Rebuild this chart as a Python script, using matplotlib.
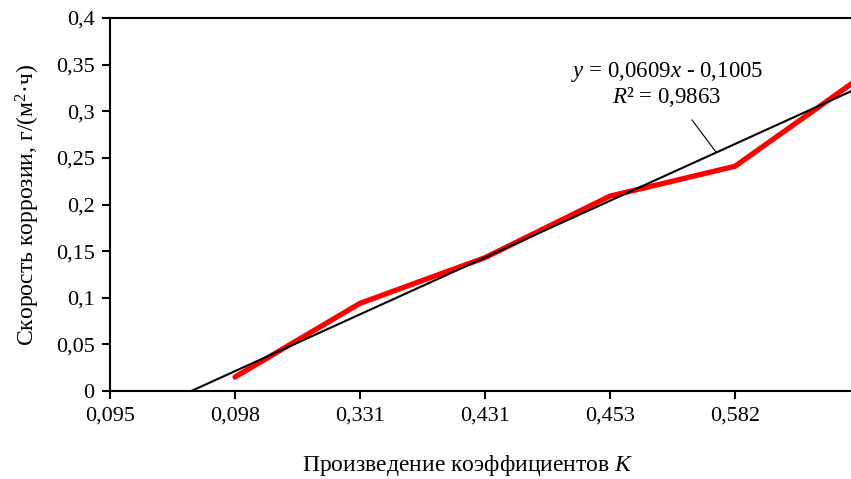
import numpy as np
import matplotlib
matplotlib.use("Agg")
import matplotlib.pyplot as plt

plt.rcParams['font.family'] = ['Liberation Serif', 'DejaVu Serif']
plt.rcParams['mathtext.fontset'] = 'custom'
plt.rcParams['mathtext.rm'] = 'Liberation Serif'
plt.rcParams['mathtext.it'] = 'Liberation Serif:italic'

# category labels (product of coefficients K); last one lies beyond the figure edge
k_labels = ['0,095', '0,098', '0,331', '0,431', '0,453', '0,582', '']
# corrosion rate, g/(m2*h); first category has no value
rate = [np.nan, 0.015, 0.094, 0.143, 0.209, 0.241, 0.336]
slope, intercept = 0.0609, -0.1005
r2 = 0.9863

W, H = 851, 479
fig = plt.figure(figsize=(W / 100, H / 100), dpi=100)
ax = fig.add_axes([110 / W, (H - 391) / H, (860 - 110) / W, (391 - 18) / H])

x = np.arange(1, len(k_labels) + 1)
ax.plot(x, rate, color='#ff0000', lw=3.8, solid_capstyle='round', zorder=3)
trend = slope * x + intercept
ax.plot(x, trend, color='black', lw=1.5, zorder=4)

ax.set_xlim(1, 7)
ax.set_ylim(0, 0.4)
ax.set_xticks(x)
ax.set_xticklabels(k_labels)
yt = np.arange(0, 0.401, 0.05)
ax.set_yticks(yt)
ax.set_yticklabels(['0' if v == 0 else f'{v:.2f}'.rstrip('0').replace('.', ',') for v in yt])

for s in ax.spines.values():
    s.set_linewidth(1.5)
ax.tick_params(direction='out', length=6, width=1.5, labelsize=16, pad=5)

ax.set_ylabel('Скорость коррозии, г/(м$^2$·ч)', fontsize=17, labelpad=10)
fig.text(468 / W, 1 - 465 / H, 'Произведение коэффициентов $\\it{K}$', fontsize=17,
         ha='center', va='center')

fig.text(667 / W, 1 - 72 / H, '$\\it{y}$ = 0,0609$\\it{x}$ - 0,1005', fontsize=16.5,
         ha='center', va='center')
fig.text(667 / W, 1 - 97 / H, '$\\it{R}$² = 0,9863', fontsize=16.5,
         ha='center', va='center')
fig.add_artist(plt.Line2D([692 / W, 716 / W], [1 - 120 / H, 1 - 152 / H],
                          color='black', lw=0.8))

fig.savefig('out.png', dpi=100)
